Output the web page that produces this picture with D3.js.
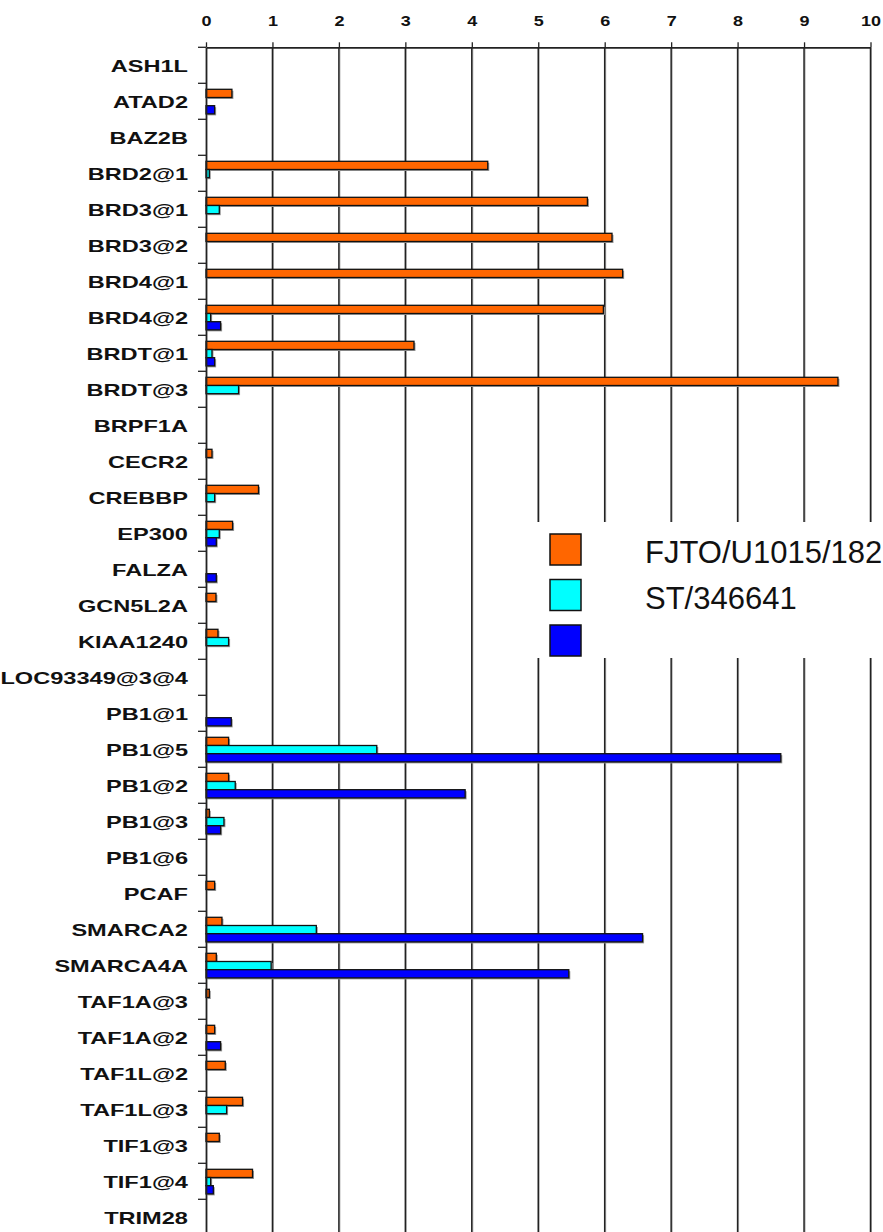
<!DOCTYPE html>
<html>
<head>
<meta charset="utf-8">
<script src="https://cdn.jsdelivr.net/npm/d3@7"></script>
<style>
  html, body { margin: 0; padding: 0; background: #fff; overflow: hidden; }
  svg { display: block; }
</style>
</head>
<body>
<div id="chart"></div>
<script>
const categories = ["ASH1L","ATAD2","BAZ2B","BRD2@1","BRD3@1","BRD3@2","BRD4@1","BRD4@2","BRDT@1","BRDT@3","BRPF1A","CECR2","CREBBP","EP300","FALZA","GCN5L2A","KIAA1240","LOC93349@3@4","PB1@1","PB1@5","PB1@2","PB1@3","PB1@6","PCAF","SMARCA2","SMARCA4A","TAF1A@3","TAF1A@2","TAF1L@2","TAF1L@3","TIF1@3","TIF1@4","TRIM28"];
const seriesNames = ["FJTO/U1015/182", "ST/346641", ""];
const seriesOrange = [0,0.39,0,4.24,5.74,6.11,6.27,5.98,3.13,9.51,0,0.09,0.79,0.40,0,0.15,0.18,0,0,0.34,0.34,0.05,0,0.13,0.24,0.155,0.05,0.13,0.29,0.55,0.20,0.70,0];
const seriesCyan   = [0,0,0,0.05,0.20,0,0,0.07,0.09,0.49,0,0,0.13,0.20,0,0,0.34,0,0,2.57,0.44,0.27,0,0,1.66,0.98,0,0,0,0.31,0,0.07,0];
const seriesBlue   = [0,0.13,0,0,0,0,0,0.22,0.13,0,0,0,0,0.155,0.155,0,0,0,0.38,8.65,3.90,0.22,0,0,6.57,5.46,0,0.22,0,0,0,0.11,0];
const tickValues = [0,1,2,3,4,5,6,7,8,9,10];
const seriesColors = ["#FF6600", "#00FFFF", "#0000FF"];

const W = 883, H = 1232;
const svg = d3.select("#chart").append("svg").attr("width", W).attr("height", H);

const x = d3.scaleLinear().domain([0, 10]).range([206, 870.5]);
const y = d3.scaleBand().domain(categories).range([47.3, 1235.3]).padding(0);
const inner = d3.scaleBand().domain([0,1,2]).range([6, 30.6]).padding(0);

const allSeries = [seriesOrange, seriesCyan, seriesBlue];
const bars = [];
categories.forEach((c, i) => {
  allSeries.forEach((s, k) => {
    if (s[i] > 0) bars.push({ cat: c, k: k, v: s[i] });
  });
});

// gridlines
svg.append("g").selectAll("line")
  .data(tickValues.slice(1))
  .join("line")
  .attr("x1", d => x(d)).attr("x2", d => x(d))
  .attr("y1", y.range()[0]).attr("y2", y.range()[1])
  .attr("stroke", "#aaa").attr("stroke-width", 1)
  .attr("transform", "translate(1,0)");
svg.append("g").selectAll("line")
  .data(tickValues.slice(1))
  .join("line")
  .attr("x1", d => x(d)).attr("x2", d => x(d))
  .attr("y1", y.range()[0]).attr("y2", y.range()[1])
  .attr("stroke", "#222").attr("stroke-width", 1.5);

// legend background (covers gridlines)
const lg = svg.append("g");
lg.append("rect").attr("x", 522).attr("y", 522).attr("width", 400).attr("height", 136).attr("fill", "#fff");
seriesColors.forEach((col, k) => {
  const yy = 534 + k * 45.5;
  lg.append("rect").attr("x", 550).attr("y", yy).attr("width", 31).attr("height", 31)
    .attr("fill", col).attr("stroke", "#111").attr("stroke-width", 1.5);
  lg.append("text").attr("x", 645).attr("y", yy + 29)
    .attr("font-family", "Liberation Sans, Arial, sans-serif").attr("font-size", 31)
    .attr("fill", "#111").text(seriesNames[k]);
});

// bar shadows
svg.append("g").selectAll("rect")
  .data(bars).join("rect")
  .attr("x", x(0) + 1.5)
  .attr("y", d => y(d.cat) + inner(d.k) + 1.5)
  .attr("width", d => x(d.v) - x(0))
  .attr("height", inner.bandwidth())
  .attr("fill", "#9a9a9a");

// bars
svg.append("g").selectAll("rect")
  .data(bars).join("rect")
  .attr("x", x(0))
  .attr("y", d => y(d.cat) + inner(d.k))
  .attr("width", d => x(d.v) - x(0))
  .attr("height", inner.bandwidth())
  .attr("fill", d => seriesColors[d.k])
  .attr("stroke", "#111").attr("stroke-width", 1.3);

// top axis
const xAxis = svg.append("g").attr("transform", `translate(0,${y.range()[0]})`)
  .call(d3.axisTop(x).tickValues(tickValues).tickSize(5).tickSizeOuter(0).tickFormat(d3.format("d")));
xAxis.select(".domain").attr("stroke", "#222").attr("stroke-width", 1.8);
xAxis.selectAll(".tick line").attr("stroke", "#222").attr("stroke-width", 1.3);
xAxis.selectAll(".tick text")
  .attr("font-family", "Liberation Sans, Arial, sans-serif").attr("font-weight", "bold")
  .attr("font-size", 15).attr("fill", "#111")
  .attr("y", 0).attr("dy", 0)
  .attr("transform", "translate(0,-21) scale(1.2,1)");

// left axis
const yAxis = svg.append("g").attr("transform", `translate(${x(0)},0)`)
  .call(d3.axisLeft(y).tickSize(0).tickSizeOuter(0));
yAxis.select(".domain").attr("stroke", "#222").attr("stroke-width", 1.8);
const sx = 1.43;
yAxis.selectAll(".tick text")
  .attr("font-family", "Liberation Sans, Arial, sans-serif").attr("font-weight", "bold")
  .attr("font-size", 16.5).attr("fill", "#111")
  .attr("x", -18 / sx).attr("dy", "0.42em")
  .attr("transform", `scale(${sx},1)`);

// boundary ticks on left axis
const bounds = d3.range(categories.length + 1).map(i => y.range()[0] + i * y.step());
svg.append("g").selectAll("line")
  .data(bounds).join("line")
  .attr("x1", x(0) - 8).attr("x2", x(0))
  .attr("y1", d => d).attr("y2", d => d)
  .attr("stroke", "#222").attr("stroke-width", 1.3);
</script>
</body>
</html>
